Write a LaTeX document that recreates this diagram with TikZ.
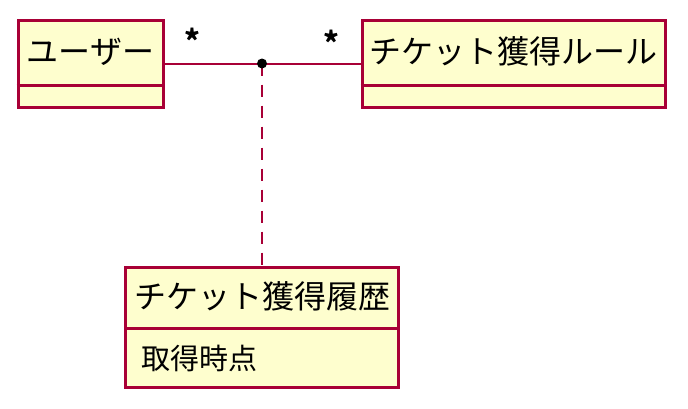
\documentclass[tikz,border=0pt]{standalone}
\usepackage{fontspec}
\setmainfont{Noto Sans CJK JP}
\usetikzlibrary{positioning}
\definecolor{umlred}{HTML}{A80036}
\definecolor{umlfill}{HTML}{FEFECE}
\begin{document}
\begin{tikzpicture}[
    x=1pt,
    y=-1pt,
    classbox/.style={
        rectangle,
        draw=umlred,
        fill=umlfill,
        line width=3pt,
        inner sep=0pt
    },
    classname/.style={
        inner sep=0pt,
        font=\fontsize{32}{32}\selectfont
    },
    attribute/.style={
        inner sep=0pt,
        anchor=west,
        font=\fontsize{29}{29}\selectfont
    },
    separator/.style={
        draw=umlred,
        line width=3pt
    },
    assoc/.style={
        draw=umlred,
        line width=2pt
    },
    mult/.style={
        inner sep=0pt,
        font=\fontsize{30}{30}\selectfont\bfseries
    }
]
\useasboundingbox (0,0) rectangle (688,408);

% Classi
\node[classbox, minimum width=145pt, minimum height=87pt] (user) at (90.5,63.5) {};
\node[classname, below=33pt of user.north, anchor=center] (usertitle) {ユーザー};
\draw[separator] ([yshift=-67pt]user.north west) -- ([yshift=-67pt]user.north east);

\node[classbox, minimum width=303pt, minimum height=87pt] (rule) at (513.5,63.5) {};
\node[classname, below=33pt of rule.north, anchor=center] (ruletitle) {チケット獲得ルール};
\draw[separator] ([yshift=-67pt]rule.north west) -- ([yshift=-67pt]rule.north east);

\node[classbox, minimum width=273pt, minimum height=120pt] (history) at (262,327) {};
\node[classname, below=31pt of history.north, anchor=center] (historytitle) {チケット獲得履歴};
\draw[separator] ([yshift=-63pt]history.north west) -- ([yshift=-63pt]history.north east);
\node[attribute, right=17pt of history.west, yshift=-31pt] (historytime) {取得時点};

% Associazione
\coordinate (assocpoint) at (262,63.5);
\draw[assoc] (user) -- (rule);
\draw[assoc, dash pattern=on 12pt off 9pt] (assocpoint) -- (history);
\node[circle, fill=black, inner sep=0pt, minimum size=10pt] (assocdot) at (assocpoint) {};

% Molteplicita
\node[mult] (usermult) at (192,40) {*};
\node[mult] (rulemult) at (331,42) {*};

\end{tikzpicture}
\end{document}
